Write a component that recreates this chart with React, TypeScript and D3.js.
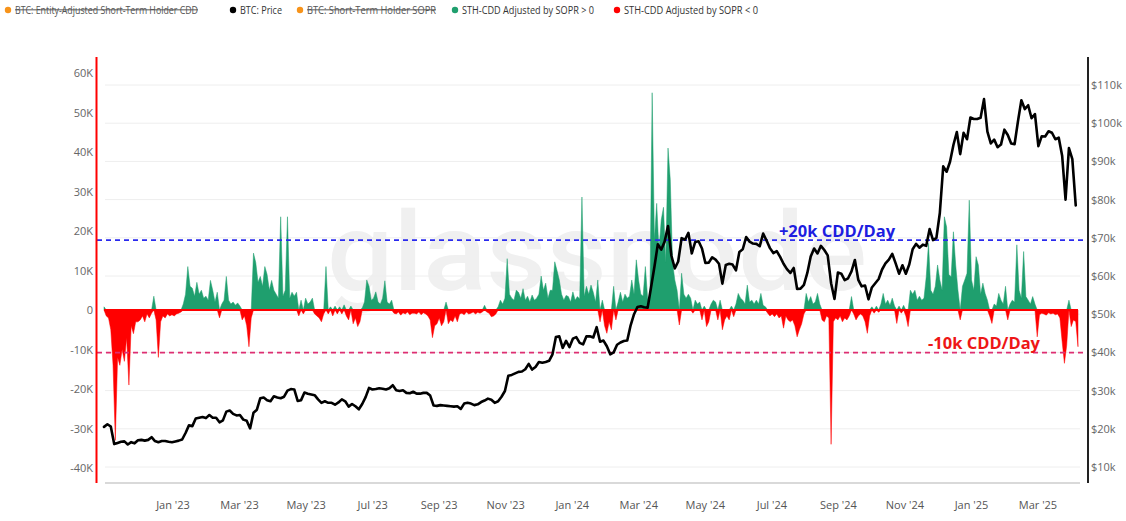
import React from 'react';
import * as d3 from 'd3';

const W = 1126;
const H = 521;

// ---- DATA ----
// BTC price ($k), one value every 3 days from 2022-11-01
const priceStart = new Date(Date.UTC(2022, 10, 1));
const priceStepDays = 3;
const priceK = [
  // Nov 2022
  20.5, 21.2, 20.6, 16.0, 16.3, 16.6, 16.7, 15.9, 16.5, 16.2,
  // Dec
  17.0, 17.1, 16.9, 17.1, 17.8, 16.8, 16.5, 16.8, 16.8, 16.6, 16.5,
  // Jan 2023
  16.7, 16.9, 17.2, 18.9, 20.9, 20.7, 22.7, 22.9, 23.1, 22.8,
  // Feb
  23.6, 22.9, 22.9, 21.7, 22.2, 24.5, 24.8, 23.9, 23.5,
  // Mar
  23.6, 22.4, 22.1, 20.1, 24.2, 25.0, 28.0, 28.2, 27.5, 27.2, 28.5,
  // Apr
  28.2, 28.0, 28.4, 30.0, 30.4, 30.3, 27.3, 27.5, 29.5, 29.2,
  // May
  29.0, 28.8, 27.7, 26.8, 27.2, 26.8, 26.8, 26.3, 26.9, 27.7,
  // Jun
  27.2, 25.8, 26.5, 25.9, 25.1, 26.5, 28.3, 30.7, 30.3, 30.4,
  // Jul
  30.6, 30.5, 30.3, 30.6, 31.4, 30.1, 29.9, 30.1, 29.4, 29.3,
  // Aug
  29.7, 29.2, 29.2, 29.4, 29.4, 28.7, 26.1, 26.0, 26.2, 26.1, 26.0,
  // Sep
  25.9, 25.8, 25.9, 25.2, 26.6, 26.8, 26.6, 26.2, 26.4, 27.0,
  // Oct
  27.4, 27.9, 27.6, 26.8, 27.2, 28.4, 29.9, 33.9, 34.1, 34.5,
  // Nov
  34.9, 35.0, 35.6, 37.0, 35.5, 36.2, 37.5, 37.3, 37.5, 37.8,
  // Dec
  39.5, 44.0, 44.2, 41.2, 43.0, 41.4, 43.6, 44.0, 42.5, 42.1,
  // Jan 2024
  44.2, 44.2, 43.9, 46.6, 42.8, 43.1, 41.6, 39.5, 40.0, 42.0, 42.6,
  // Feb
  43.0, 43.1, 47.1, 50.0, 51.9, 52.1, 51.8, 51.7, 57.0,
  // Mar
  62.4, 68.3, 66.9, 69.0, 73.1, 65.3, 62.0, 63.8, 69.9, 69.5, 71.3,
  // Apr
  65.9, 68.9, 69.1, 67.2, 63.4, 63.5, 64.9, 64.3, 63.2, 58.0,
  // May
  62.9, 63.2, 63.0, 61.5, 66.3, 67.0, 70.2, 69.0, 68.5, 68.4,
  // Jun
  67.8, 71.1, 69.3, 67.3, 66.0, 66.5, 65.0, 63.2, 61.8, 60.8,
  // Jul
  62.1, 56.6, 56.7, 57.7, 60.8, 65.1, 67.2, 65.9, 67.9, 66.8,
  // Aug
  65.4, 58.1, 54.0, 60.9, 60.6, 58.9, 59.4, 61.2, 64.2, 59.0, 57.3,
  // Sep
  57.5, 53.9, 57.0, 58.1, 59.2, 61.7, 63.3, 64.3, 65.8, 63.3,
  // Oct
  60.6, 62.8, 60.6, 63.0, 67.0, 68.4, 67.4, 68.2, 67.9, 72.3,
  // Nov
  69.4, 70.0, 76.5, 88.7, 87.3, 89.9, 94.3, 97.7, 91.9, 97.5,
  // Dec
  95.8, 101.5, 101.1, 101.1, 101.4, 106.3, 97.8, 94.7, 95.7, 93.7,
  // Jan 2025
  94.4, 98.3, 96.9, 94.7, 94.5, 100.5, 106.0, 103.7, 104.7, 101.3, 102.4,
  // Feb
  94.0, 96.6, 96.5, 97.9, 97.5, 95.8, 96.2, 91.5, 80.0,
  // Mar
  93.5, 90.6, 78.5,
];

// STH-CDD adjusted by SOPR (thousands), one value every 2 days from 2022-11-01
const cddStart = new Date(Date.UTC(2022, 10, 1));
const cddStepDays = 2;
const cddK = [
  // Nov 2022
  0.8, -1.5, -2.0, -5, -14, -33, -12, -14, -10, -13, -7, -19, -4, -6, -3,
  // Dec
  -3, -2.5, -1.5, -3, -1, -2, -0.8, 3.5, -2.5, -12, -3, -1.5, -2, -1, -1.5, -1.2,
  // Jan 2023
  -1.5, -1.0, -0.8, -0.5, 1.5, 4, 11, 6, 5.5, 3.5, 7, 4, 5, 3, 3.5,
  // Feb
  2.5, 7.5, 5, 2, 4.5, -2, 1.5, 2.5, 8.5, 2.5, 1.5, 2, 1.2, 1.8,
  // Mar
  1.0, -2.5, -1.5, -4, -9.3, -2, 14.4, 12, 7, 8.5, 6, 11, 9, 5, 7.5, 5,
  // Apr
  4, 3, 23.6, 3.5, 5, 23.6, 3, 4.5, 3.5, 4.5, -1.5, 2.5, -1, 3, 1.5,
  // May
  2, 3, -1, -1.5, -2, -3, -1, 11, -1, 0.8, -1.5, 1, -1, 0.8, -1,
  // Jun
  1.3, -1.5, -2.5, 1.0, -3.5, -2, -4.2, -3, 0.5, 2, 7.6, 6, 2.5, 3, 4.6,
  // Jul
  2, 1.5, 3, 7.4, 2, 1.5, 2.5, -0.8, -1, -0.5, -1.3, -0.7, -1, -0.5, -1.2, -0.8,
  // Aug
  -0.8, -1, -0.5, -1.2, -0.7, -1, -1.5, -2.5, -7, -4, -3.5, -2, -4, -3, 2,
  // Sep
  -3.5, -2.5, -3, -1.5, -3, -1, -0.8, -1.2, -0.5, -1, -0.8, -0.5, -1, -0.6, -0.8,
  // Oct
  -0.5, 1.2, -0.5, -0.8, -1.7, -1.5, -1, 0.8, 2.5, 1.5, 3, 13, 4, 3, 2.5, 5,
  // Nov
  4.5, 3, 5.4, 2.5, 3.5, 2, 3.8, 2.5, 3, 4, 8.6, 5, 6.8, 3, 5,
  // Dec
  5, 12.2, 10, 7.6, 4, 2.5, 3.7, 3.4, 2, 4.6, 2.5, 3.4, 2.8, 28.6, 3.5,
  // Jan 2024
  6, 4, 6.3, 4.5, 2, 7.6, -3, 2.5, -4, -5.9, -3, -5, 6, -2.5, 2, 4.5,
  // Feb
  2, 4, 3, 3.5, 7.6, 4, 12.7, 7.6, 4, 3.5, 11, 3, 2.5, 55,
  // Mar
  17.7, 27, 15, 22.8, 26, 12, 41, 33, 12, 7.6, 5, -3.8, 9.3, 4, 3, 4,
  // Apr
  3, -0.8, 2.5, 1.5, 2, -2.5, 1, -4.2, -3, 1.5, 2.5, 2, -2.5, 2.5, -5,
  // May
  -2.5, -1.5, -2.5, 1, -1.7, 1.5, 4.2, 3, 2.5, 1.5, 6.3, 2, 2.5, 1.5, 2.5,
  // Jun
  1.5, 4.2, 1.2, 0.8, -0.8, -1.5, -1, -1.7, -1, -2, -1.5, -4.6, -1.5, -2.5, -3,
  // Jul
  -2.5, -4, -6.8, -5, -3.5, -1, 4.2, 2, 3.4, 1.5, 2, 4.2, 1.5, -2.5, -3, -1.5,
  // Aug
  -2, -34, -3, -2, -2.5, -1.5, -3, -2, -2.5, -1.5, 3.4, -1, -2.5, -1.5, -1,
  // Sep
  -1.5, -3, -5.9, -1.5, 0.8, -0.8, 1, -0.6, 1.5, 4.2, 1.5, 2.5, 1.2, 3, 1,
  // Oct
  -3.4, 1, -0.8, 1.2, -1.5, -4.2, 5, 4, 5, 2.5, 3.5, 2.5, 3, 8.4, 16.9, 5,
  // Nov
  4, 6, 11.4, 7.6, 5, 23.6, 21, 9, 8.4, 19.8, 11.4, 5, -2.5, 6, 7.6,
  // Dec
  9.3, 27.8, 7.6, 5, 13.5, 11.4, 4, 6.8, 4.2, 2.5, -1.5, -3.4, 1.5, 1, 4.2,
  // Jan 2025
  2.5, 1.5, 6, -2.5, 1.5, 2.5, 2, 16.5, 5, 3, 14.8, 3.4, 2.5, 1.5, 3.4, 1.5,
  // Feb
  -6.8, -1.2, -0.8, -1, -1.3, -0.7, -1, -0.8, -1.2, -1, -2, -8, -13.5, -9,
  // Mar
  2.5, -4.2, -2.5, -3, -9.3,
];

const xTickLabels = [
  "Jan '23", "Mar '23", "May '23", "Jul '23", "Sep '23", "Nov '23", "Jan '24",
  "Mar '24", "May '24", "Jul '24", "Sep '24", "Nov '24", "Jan '25", "Mar '25",
];
const leftTicks = [60000, 50000, 40000, 30000, 20000, 10000, 0, -10000, -20000, -30000, -40000];
const rightTicks = [10000, 20000, 30000, 40000, 50000, 60000, 70000, 80000, 90000, 100000, 110000];

const refLines = [
  { value: 17700, label: '+20k CDD/Day', color: '#1d1de0', dash: '#2a2aee' },
  { value: -10800, label: '-10k CDD/Day', color: '#ee1616', dash: '#dd2f72' },
];

const legendItems = [
  { label: 'BTC: Entity-Adjusted Short-Term Holder CDD', color: '#f7931a', struck: true },
  { label: 'BTC: Price', color: '#000000', struck: false },
  { label: 'BTC: Short-Term Holder SOPR', color: '#f7931a', struck: true },
  { label: 'STH-CDD Adjusted by SOPR > 0', color: '#1f9f6e', struck: false },
  { label: 'STH-CDD Adjusted by SOPR < 0', color: '#ff0000', struck: false },
];
// legend layout (dot x, text width)
const legendLayout = [
  { x: 8, w: 183 },
  { x: 233, w: 42 },
  { x: 300, w: 129 },
  { x: 455, w: 132 },
  { x: 617, w: 134 },
];

const GREEN = '#1f9f6e';
const RED = '#ff0000';

export default function App() {
  const priceData = priceK.map((v, i) => ({
    date: d3.utcDay.offset(priceStart, i * priceStepDays),
    value: v * 1000,
  }));
  const cddData = cddK.map((v, i) => ({
    date: d3.utcDay.offset(cddStart, i * cddStepDays),
    value: v * 1000,
  }));

  const x = d3
    .scaleUtc()
    .domain([new Date(Date.UTC(2022, 10, 1)), new Date(Date.UTC(2025, 2, 10))])
    .range([104, 1078]);
  const yL = d3.scaleLinear().domain([-40000, 60000]).range([468, 73]);
  const yR = d3.scaleLinear().domain([10000, 110000]).range([467, 85]);
  const xLab = d3.scalePoint<string>().domain(xTickLabels).range([173, 1038]);

  const greenArea = d3
    .area<{ date: Date; value: number }>()
    .x((d) => x(d.date))
    .y0(yL(0))
    .y1((d) => yL(Math.max(0, d.value)));
  const redArea = d3
    .area<{ date: Date; value: number }>()
    .x((d) => x(d.date))
    .y0(yL(0))
    .y1((d) => yL(Math.min(0, d.value)));
  const priceLine = d3
    .line<{ date: Date; value: number }>()
    .x((d) => x(d.date))
    .y((d) => yR(d.value));

  const plotLeft = 105;
  const plotRight = 1080;
  const axisTop = 57;
  const axisBottom = 483;
  const font = "'Open Sans', 'Noto Sans', sans-serif";

  return (
    <svg
      width={W}
      height={H}
      viewBox={`0 0 ${W} ${H}`}
      style={{ position: 'absolute', left: 0, top: 0, background: '#fff' }}
      fontFamily={font}
    >
      <rect x={0} y={0} width={W} height={H} fill="#fff" />

      {/* legend */}
      {legendItems.map((it, i) => {
        const L = legendLayout[i];
        return (
          <g key={it.label}>
            <circle cx={L.x} cy={10} r={3.2} fill={it.color} />
            <text
              x={L.x + 7}
              y={13.5}
              fontSize={10}
              fill={it.struck ? '#555' : '#333'}
              textDecoration={it.struck ? 'line-through' : undefined}
              textLength={L.w}
              lengthAdjust="spacingAndGlyphs"
            >
              {it.label}
            </text>
          </g>
        );
      })}

      {/* watermark */}
      <text
        x={597}
        y={290}
        fontSize={110}
        fontWeight={500}
        fill="#f0f0f0"
        textAnchor="middle"
        textLength={540}
        lengthAdjust="spacingAndGlyphs"
        fontFamily="Roboto, 'DejaVu Sans', sans-serif"
      >
        glassnode
      </text>

      {/* gridlines (right axis) */}
      {rightTicks.map((t) => (
        <line key={'g' + t} x1={plotLeft} x2={plotRight} y1={yR(t)} y2={yR(t)} stroke="#eeeeee" strokeWidth={1} />
      ))}
      <line x1={plotLeft} x2={plotRight} y1={axisBottom} y2={axisBottom} stroke="#d9d9d9" strokeWidth={2} />

      {/* CDD areas */}
      <path d={greenArea(cddData) || ''} fill={GREEN} stroke={GREEN} strokeWidth={0.5} />
      <path d={redArea(cddData) || ''} fill={RED} stroke={RED} strokeWidth={0.5} />
      <line
        x1={x(cddData[0].date)}
        x2={x(cddData[cddData.length - 1].date)}
        y1={yL(0)}
        y2={yL(0)}
        stroke={RED}
        strokeWidth={2}
      />

      {/* reference lines */}
      {refLines.map((r) => (
        <line
          key={r.label}
          x1={97}
          x2={1088}
          y1={yL(r.value)}
          y2={yL(r.value)}
          stroke={r.dash}
          strokeWidth={1.6}
          strokeDasharray="5 4"
        />
      ))}

      {/* price */}
      <path
        d={priceLine(priceData) || ''}
        fill="none"
        stroke="#000"
        strokeWidth={2.6}
        strokeLinejoin="round"
        strokeLinecap="round"
      />

      {/* annotations */}
      <text x={837} y={237} fontSize={16.5} fontWeight="bold" fill={refLines[0].color} textAnchor="middle">
        {refLines[0].label}
      </text>
      <text x={984} y={349} fontSize={16.5} fontWeight="bold" fill={refLines[1].color} textAnchor="middle">
        {refLines[1].label}
      </text>

      {/* left axis */}
      <line x1={96.5} x2={96.5} y1={axisTop} y2={axisBottom} stroke={RED} strokeWidth={2} />
      {leftTicks.map((t) => (
        <text key={'l' + t} x={93} y={yL(t) + 4} fontSize={11} fill="#666" textAnchor="end">
          {t === 0 ? '0' : `${t / 1000}K`}
        </text>
      ))}

      {/* right axis */}
      <line x1={1088} x2={1088} y1={axisTop} y2={axisBottom} stroke="#222" strokeWidth={2} />
      {rightTicks.map((t) => (
        <text key={'r' + t} x={1091} y={yR(t) + 4} fontSize={11} fill="#666">
          {`$${t / 1000}k`}
        </text>
      ))}

      {/* x labels */}
      {xTickLabels.map((l) => (
        <text key={l} x={xLab(l)} y={509} fontSize={11} fill="#555" textAnchor="middle">
          {l}
        </text>
      ))}
    </svg>
  );
}
